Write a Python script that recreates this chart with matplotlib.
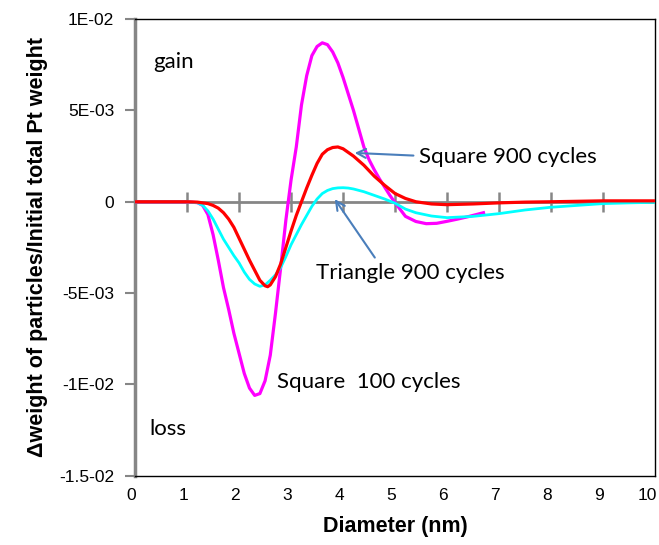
import numpy as np
from matplotlib import pyplot as plt
from matplotlib.transforms import ScaledTranslation

# Square 100 cycles (magenta), values in units of 1e-3
sq100_x = [0, 0.5, 1.0, 1.2, 1.3, 1.4, 1.5, 1.6, 1.7, 1.8, 1.9, 2.0, 2.1, 2.2, 2.3, 2.4,
           2.5, 2.6, 2.7, 2.8, 2.9, 3.0, 3.1, 3.2, 3.3, 3.4, 3.5, 3.6, 3.7, 3.8, 3.9, 4.0,
           4.1, 4.2, 4.3, 4.4, 4.5, 4.6, 4.7, 4.8, 4.9, 5.0, 5.2, 5.4, 5.6, 5.8, 6.0, 6.2,
           6.4, 6.7]
sq100_y = [0, 0, 0, -0.05, -0.2, -0.7, -1.8, -3.2, -4.7, -5.9, -7.2, -8.3, -9.4, -10.2,
           -10.6, -10.5, -9.8, -8.4, -6.1, -3.6, -1.0, 1.2, 3.0, 5.3, 6.9, 8.0, 8.5, 8.7,
           8.6, 8.2, 7.6, 6.8, 5.9, 5.0, 4.0, 3.0, 2.3, 1.75, 1.25, 0.8, 0.35, -0.05, -0.8,
           -1.08, -1.2, -1.18, -1.07, -0.95, -0.82, -0.6]

# Square 900 cycles (red)
sq900_x = [0, 0.5, 1.0, 1.2, 1.4, 1.5, 1.6, 1.7, 1.8, 1.9, 2.0, 2.1, 2.2, 2.3, 2.4, 2.5,
           2.55, 2.6, 2.7, 2.8, 2.9, 3.0, 3.1, 3.2, 3.3, 3.4, 3.5, 3.6, 3.7, 3.8, 3.9, 4.0,
           4.1, 4.2, 4.4, 4.6, 4.8, 5.0, 5.2, 5.4, 5.7, 6.0, 6.5, 7.0, 7.5, 8.0, 9.0, 10.0]
sq900_y = [0, 0, 0, -0.02, -0.1, -0.2, -0.35, -0.6, -0.95, -1.4, -2.0, -2.6, -3.2, -3.75,
           -4.3, -4.6, -4.65, -4.55, -4.1, -3.4, -2.5, -1.6, -0.75, 0.0, 0.75, 1.45, 2.1,
           2.6, 2.85, 2.97, 3.0, 2.9, 2.7, 2.5, 2.0, 1.4, 0.9, 0.45, 0.18, 0.0, -0.12,
           -0.16, -0.12, -0.06, -0.02, 0.0, 0.05, 0.05]

# Triangle 900 cycles (cyan)
tri900_x = [0, 0.5, 1.0, 1.2, 1.3, 1.4, 1.5, 1.6, 1.7, 1.8, 1.9, 2.0, 2.1, 2.2, 2.3, 2.4,
            2.5, 2.6, 2.7, 2.8, 2.9, 3.0, 3.1, 3.2, 3.3, 3.4, 3.5, 3.6, 3.7, 3.8, 3.9, 4.0,
            4.1, 4.2, 4.4, 4.6, 4.8, 5.0, 5.2, 5.4, 5.7, 6.0, 6.5, 7.0, 7.5, 8.0, 8.5, 9.0,
            9.5, 10.0]
tri900_y = [0, 0, 0, -0.05, -0.2, -0.5, -0.95, -1.5, -2.05, -2.5, -2.95, -3.35, -3.85,
            -4.25, -4.5, -4.63, -4.55, -4.3, -4.0, -3.6, -3.0, -2.35, -1.8, -1.25, -0.75,
            -0.25, 0.15, 0.45, 0.62, 0.72, 0.76, 0.77, 0.75, 0.7, 0.55, 0.35, 0.15, -0.08,
            -0.4, -0.6, -0.78, -0.87, -0.8, -0.65, -0.45, -0.3, -0.2, -0.1, -0.06, -0.03]

x_ticks = list(range(0, 11))
y_ticks = [0.01, 0.005, 0.0, -0.005, -0.01, -0.015]
y_tick_labels = ["1E-02", "5E-03", "0", "-5E-03", "-1E-02", "-1.5-02"]

tick_font = ["Liberation Sans", "DejaVu Sans"]
label_font = ["Liberation Sans", "DejaVu Sans"]
note_font = ["Lato", "DejaVu Sans"]
axis_grey = "#868686"

fig = plt.figure(figsize=(6.59, 5.45), dpi=100)
ax = fig.add_axes([0.205, 0.127, 0.789, 0.838])

# zero line with its crossing tick marks
ax.axhline(0, color=axis_grey, lw=2, zorder=1)
ax.vlines(x_ticks[1:-1], -0.00055, 0.00055, color=axis_grey, lw=1.8, zorder=1)

ax.plot(sq100_x, np.array(sq100_y) * 1e-3, color="#ff00ff", lw=2.3, zorder=3)
ax.plot(tri900_x, np.array(tri900_y) * 1e-3, color="#00ffff", lw=2.0, zorder=4)
ax.plot(sq900_x, np.array(sq900_y) * 1e-3, color="#ff0000", lw=2.3, zorder=5)

ax.set_xlim(0, 10)
ax.set_ylim(-0.015, 0.01)
ax.set_xticks(x_ticks)
ax.set_xticklabels([str(t) for t in x_ticks], family=tick_font, fontsize=12.5)
ax.set_yticks(y_ticks)
ax.set_yticklabels(y_tick_labels, family=tick_font, fontsize=12.5)
ax.tick_params(axis="x", length=0, pad=9)
ax.tick_params(axis="y", length=7, width=1.5, color=axis_grey, pad=8)

# labels sit a little left of their positions, as in the source chart
for i, lab in enumerate(ax.get_xticklabels()):
    shift = -8 if i == len(x_ticks) - 1 else -4
    lab.set_transform(lab.get_transform() + ScaledTranslation(shift / 100, 0, fig.dpi_scale_trans))

for side in ["top", "right", "bottom"]:
    ax.spines[side].set_color("black")
    ax.spines[side].set_linewidth(1)
ax.spines["left"].set_color(axis_grey)
ax.spines["left"].set_linewidth(2.5)

ax.set_xlabel("Diameter (nm)", family=label_font, fontsize=15.5, fontweight="bold", labelpad=9)
ax.set_ylabel("Δweight of particles/Initial total Pt weight", family=label_font,
              fontsize=15.5, fontweight="bold", labelpad=8)

ax.text(0.346, 0.00765, "gain", family=note_font, fontsize=16, va="center")
ax.text(0.27, -0.01246, "loss", family=note_font, fontsize=16, va="center")
ax.text(2.73, -0.00989, "Square  100 cycles", family=note_font, fontsize=16, va="center")

ax.annotate("Square 900 cycles", xy=(4.17, 0.00268), xytext=(5.46, 0.00246),
            family=note_font, fontsize=16, va="center",
            arrowprops=dict(arrowstyle="->", color="#4a7ebb", lw=1.5, relpos=(0, 0.55)))
ax.annotate("Triangle 900 cycles", xy=(3.81, 0.00027), xytext=(3.48, -0.00388),
            family=note_font, fontsize=16, va="center",
            arrowprops=dict(arrowstyle="->", color="#4a7ebb", lw=1.5, relpos=(0.33, 1.0)))

fig.savefig("out.png", dpi=100)
